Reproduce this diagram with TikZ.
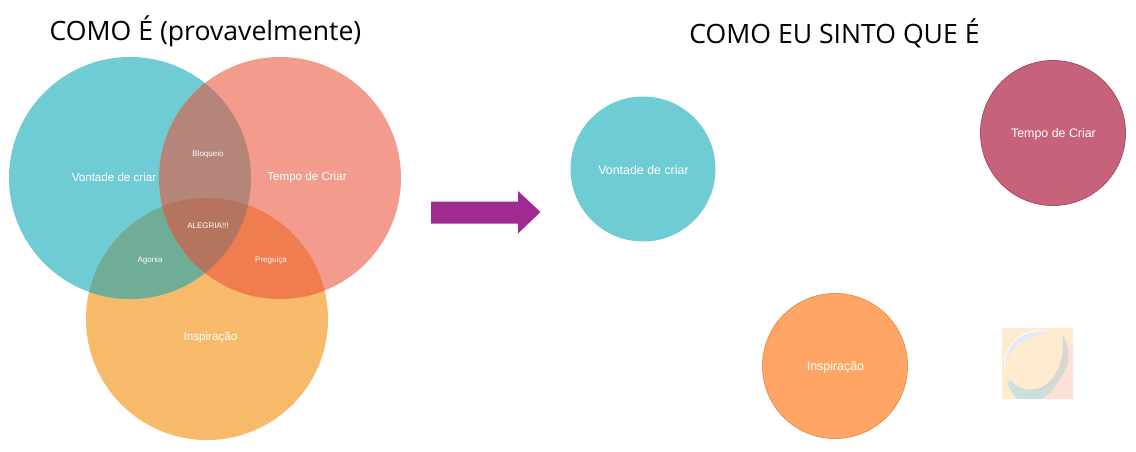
\documentclass[tikz,border=0pt]{standalone}
\usepackage{fontspec}
\setmainfont{Liberation Sans}
\newfontfamily\titlefont{Open Sans}
\definecolor{cteal}{HTML}{70CCD4}
\definecolor{csalmon}{HTML}{F39C8D}
\definecolor{corange}{HTML}{F7B96A}
\definecolor{cbloq}{HTML}{B5857A}
\definecolor{cagon}{HTML}{6FAD96}
\definecolor{cpreg}{HTML}{F07D50}
\definecolor{cale}{HTML}{B5745E}
\definecolor{carrow}{HTML}{A02B93}
\definecolor{ccrim}{HTML}{C6627A}
\definecolor{ccrimb}{HTML}{A84A66}
\definecolor{corb}{HTML}{FFA666}
\definecolor{corbb}{HTML}{E8904F}
\definecolor{iccream}{HTML}{FFEBCF}
\definecolor{icpink}{HTML}{FFE0D6}
\definecolor{icteal}{HTML}{CBE0DA}
\definecolor{icgrey}{HTML}{D8D6D2}
\definecolor{iclav}{HTML}{E6E8F5}
\tikzset{
  vennc/.style={circle,minimum size=242pt,inner sep=0pt,outer sep=0pt},
  solo/.style={circle,minimum size=145pt,inner sep=0pt,outer sep=0pt},
  big/.style={text=white,font=\fontsize{11.6}{14}\selectfont},
  bigr/.style={text=white,font=\fontsize{12.4}{14}\selectfont},
  small/.style={text=white,font=\fontsize{8}{10}\selectfont},
  title/.style={text=black,font=\titlefont\fontsize{26.6}{30}\selectfont,inner sep=0pt},
}
\begin{document}
\begin{tikzpicture}[x=1pt,y=-1pt]
\useasboundingbox (0,0) rectangle (1136,451);
% Venn
\node[vennc,fill=corange] (ci) at (207,319) {};
\node[vennc,fill=cteal] (cv) at (130,178) {};
\node[vennc,fill=csalmon] (ct) at (280,178) {};
\begin{scope}
  \clip (130,178) circle (121);
  \fill[cagon] (207,319) circle (121);
\end{scope}
\begin{scope}
  \clip (280,178) circle (121);
  \fill[cpreg] (207,319) circle (121);
\end{scope}
\begin{scope}
  \clip (130,178) circle (121);
  \fill[cbloq] (280,178) circle (121);
  \clip (280,178) circle (121);
  \fill[cale] (207,319) circle (121);
\end{scope}
\node[big] (lv) at (114,177) {Vontade de criar};
\node[big] (lt) at (307,177) {Tempo de Criar};
\node[big] (li) at (210.5,337.5) {Inspiração};
\node[small] (lb) at (208,154) {Bloqueio};
\node[small] (la) at (208,226) {ALEGRIA!!!};
\node[small] (lg) at (150,260) {Agonia};
\node[small] (lp) at (271,260) {Preguiça};
% titles
\node[title,anchor=center] (t1) at (205.5,31) {COMO É (provavelmente)};
\node[title,anchor=center] (t2) at (834.5,33) {COMO EU SINTO QUE É};
% arrow
\fill[carrow] (431,201.5) -- (518,201.5) -- (518,191) -- (540.5,212) -- (518,233.5) -- (518,223.5) -- (431,223.5) -- cycle;
% right
\node[solo,fill=cteal] (rv) at (643,169) {};
\node[bigr] (rvl) at (643.5,170) {Vontade de criar};
\node[solo,fill=ccrim,draw=ccrimb,line width=0.8pt] (rt) at (1053,133) {};
\node[bigr] (rtl) at (1053.5,134) {Tempo de Criar};
\node[solo,fill=corb,draw=corbb,line width=0.8pt] (ri) at (835,366) {};
\node[bigr] (ril) at (835.5,367.5) {Inspiração};
% picture icon
\begin{scope}
  \clip (1002,328) rectangle (1073,399);
  \fill[iccream] (1002,328) rectangle (1073,399);
  \fill[icpink] (1062,335) -- (1073,346) -- (1073,399) -- (1042,399) -- (1060,380) -- cycle;
  \fill[icteal] (1007,381) -- (1062,375) .. controls (1056,388) and (1048,395) .. (1042,399) -- (1017,399) .. controls (1012,394) and (1009,388) .. (1007,381) -- cycle;
  \fill[icgrey] (1063,336) .. controls (1071,350) and (1071,370) .. (1055,383) .. controls (1045,391) and (1030,392) .. (1027,389) -- (1045,360) -- cycle;
  \fill[iclav] (1005,367) .. controls (1002,345) and (1022,324) .. (1053,334) -- (1040,345) -- cycle;
  \fill[iccream] (1005,367) .. controls (1009,346) and (1030,333) .. (1053,334) .. controls (1060,335) and (1064,337) .. (1063,342) .. controls (1063,355) and (1060,378) .. (1040,388) .. controls (1025,392) and (1010,388) .. (1005,367) -- cycle;
  \draw[white,line width=0.9pt] (1005,370) .. controls (1002,347) and (1020,328) .. (1045,331);
\end{scope}
\end{tikzpicture}
\end{document}
